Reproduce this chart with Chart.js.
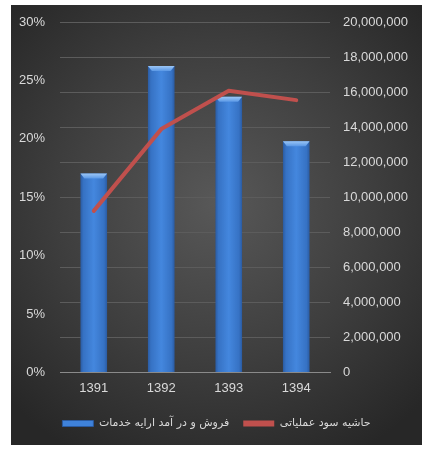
<!DOCTYPE html>
<html>
<head>
<meta charset="utf-8">
<script src="https://cdn.jsdelivr.net/npm/chart.js@4.4.1/dist/chart.umd.min.js"></script>
<style>
  html,body{margin:0;padding:0;background:#fff;}
  #wrap{position:absolute;left:11px;top:5px;width:411px;height:440px;
    background:radial-gradient(ellipse 70% 65% at 50% 45%, #585858 0%, #3e3e3e 55%, #272727 100%);}
  canvas{display:block;}
</style>
</head>
<body>
<div id="wrap"><canvas id="c" width="411" height="440"></canvas></div>
<script>
const categories = ['1391', '1392', '1393', '1394'];
const salesValues = [11350000, 17490000, 15730000, 13200000];
const marginValues = [13.83, 20.83, 24.11, 23.31];
const salesLabel = 'فروش و در آمد ارایه خدمات';
const marginLabel = 'حاشیه سود عملیاتی';
const leftTicks = [0, 5, 10, 15, 20, 25, 30];
const rightTicks = [0, 2000000, 4000000, 6000000, 8000000, 10000000, 12000000, 14000000, 16000000, 18000000, 20000000];

const textColor = '#d9d9d9';
const tickFont = {family: 'Liberation Sans', size: 13};

function barGradient(context) {
  const chart = context.chart;
  const xs = chart.scales && chart.scales.x;
  if (!xs || context.type !== 'data') return '#3d7fd6';
  const cx = xs.getPixelForValue(context.dataIndex);
  if (!isFinite(cx)) return '#3d7fd6';
  const hw = 13.5;
  const g = chart.ctx.createLinearGradient(cx - hw, 0, cx + hw, 0);
  g.addColorStop(0, '#2a5aa0');
  g.addColorStop(0.12, '#3672c4');
  g.addColorStop(0.5, '#4487de');
  g.addColorStop(0.88, '#3672c4');
  g.addColorStop(1, '#2a5aa0');
  return g;
}

const bevelPlugin = {
  id: 'bevel',
  afterDatasetDraw(chart, args) {
    if (args.index !== 0) return;
    const ctx = chart.ctx;
    args.meta.data.forEach(el => {
      if (!isFinite(el.x) || !isFinite(el.y) || !isFinite(el.width)) return;
      const l = el.x - el.width / 2, r = el.x + el.width / 2, t = el.y;
      ctx.save();
      const g = ctx.createLinearGradient(0, t, 0, t + 5);
      g.addColorStop(0, '#9cc6f5');
      g.addColorStop(1, '#5a98e6');
      ctx.fillStyle = g;
      ctx.beginPath();
      ctx.moveTo(l, t);
      ctx.lineTo(r, t);
      ctx.lineTo(r - 4, t + 5);
      ctx.lineTo(l + 4, t + 5);
      ctx.closePath();
      ctx.fill();
      ctx.restore();
    });
  }
};

function fixY(width) {
  return function(scale) {
    scale.width = width;
    scale.paddingTop = 0;
    scale.paddingBottom = 0;
  };
}

new Chart(document.getElementById('c'), {
  data: {
    labels: categories,
    datasets: [
      {
        type: 'bar',
        label: salesLabel,
        data: salesValues,
        yAxisID: 'yR',
        backgroundColor: barGradient,
        borderWidth: 0,
        barPercentage: 0.395,
        categoryPercentage: 1,
        order: 2
      },
      {
        type: 'line',
        label: marginLabel,
        data: marginValues,
        yAxisID: 'yL',
        borderColor: '#c0504d',
        backgroundColor: '#c0504d',
        borderWidth: 4,
        borderCapStyle: 'round',
        borderJoinStyle: 'round',
        pointRadius: 0,
        tension: 0,
        order: 1
      }
    ]
  },
  options: {
    responsive: false,
    animation: false,
    devicePixelRatio: 1,
    layout: {padding: {top: 17, left: 0, right: 0, bottom: 6}},
    plugins: {
      tooltip: {enabled: false},
      legend: {
        position: 'bottom',
        labels: {
          color: textColor,
          font: {family: 'DejaVu Sans', size: 11},
          boxWidth: 31,
          boxHeight: 6,
          padding: 14,
          sort: (a, b) => a.datasetIndex - b.datasetIndex,
          generateLabels(chart) {
            const items = Chart.defaults.plugins.legend.labels.generateLabels(chart);
            items.forEach(it => {
              if (it.datasetIndex === 0) {
                it.fillStyle = '#3f82da';
                it.strokeStyle = '#2a5aa0';
                it.lineWidth = 1;
              } else {
                it.fillStyle = '#c0504d';
                it.strokeStyle = '#c0504d';
                it.lineWidth = 0;
              }
            });
            return items;
          }
        }
      }
    },
    scales: {
      x: {
        type: 'category',
        grid: {display: false, drawTicks: false},
        border: {display: true, color: '#8a8a8a', width: 1},
        ticks: {color: textColor, font: tickFont, padding: 8}
      },
      yL: {
        type: 'linear',
        position: 'left',
        min: 0,
        max: 30,
        afterBuildTicks(scale) { scale.ticks = leftTicks.map(v => ({value: v})); },
        grid: {display: false, drawTicks: false},
        border: {display: false},
        ticks: {color: textColor, font: tickFont, padding: 15, callback: v => v + '%'},
        afterFit: fixY(49)
      },
      yR: {
        type: 'linear',
        position: 'right',
        min: 0,
        max: 20000000,
        afterBuildTicks(scale) { scale.ticks = rightTicks.map(v => ({value: v})); },
        grid: {display: true, color: '#5c5c5c', lineWidth: 1, drawTicks: false},
        border: {display: false},
        ticks: {color: textColor, font: tickFont, padding: 13, callback: v => v.toLocaleString('en-US')},
        afterFit: fixY(92)
      }
    }
  },
  plugins: [bevelPlugin]
});
</script>
</body>
</html>
